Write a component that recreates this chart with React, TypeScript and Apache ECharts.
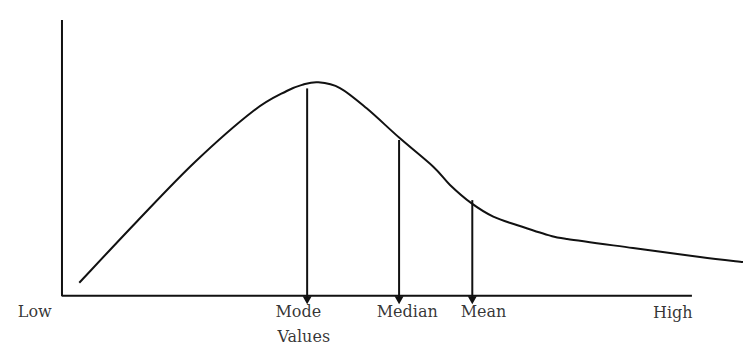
import React, { useEffect, useRef } from "react";
import * as echarts from "echarts";

// Skewed distribution curve (x: value position, y: frequency)
const curveX = [2.54, 10.97, 19.53, 28.09, 33.0, 35.43, 37.64, 40.82, 44.74, 49.63, 54.52, 56.98, 60.16, 63.33, 66.77, 71.41, 74.16, 83.85, 93.69, 100];
const curveY = [4.75, 26.87, 48.51, 67.0, 74.26, 76.61, 77.41, 75.34, 67.98, 57.11, 46.81, 40.2, 33.5, 28.7, 25.67, 22.0, 20.6, 17.33, 14.07, 12.25];

// Measures of central tendency: arrows from the curve down to the axis
const markerNames = ["Mode", "Median", "Mean"];
const markerX = [36.0, 49.5, 60.25];
const markerTop = [75.2, 56.5, 34.7];

// Axis extents
const axisXEnd = 92.5;
const axisYTop = 100;

// Labels below the axis
const labelNames = ["Low", "Mode", "Median", "Mean", "High", "Values"];
const labelX = [-4.0, 34.7, 50.7, 61.9, 89.7, 35.5];
const labelY = [-5.8, -5.8, -5.8, -5.8, -6.2, -14.9];

const INK = "#111";

function catmullRomPath(pts: number[][]): string {
  if (pts.length < 2) return "";
  let d = `M${pts[0][0]},${pts[0][1]}`;
  for (let i = 0; i < pts.length - 1; i++) {
    const p0 = pts[i - 1] || pts[i];
    const p1 = pts[i];
    const p2 = pts[i + 1];
    const p3 = pts[i + 2] || p2;
    const c1x = p1[0] + (p2[0] - p0[0]) / 6;
    const c1y = p1[1] + (p2[1] - p0[1]) / 6;
    const c2x = p2[0] - (p3[0] - p1[0]) / 6;
    const c2y = p2[1] - (p3[1] - p1[1]) / 6;
    d += ` C${c1x},${c1y} ${c2x},${c2y} ${p2[0]},${p2[1]}`;
  }
  return d;
}

export default function App() {
  const ref = useRef<HTMLDivElement>(null);
  useEffect(() => {
    if (!ref.current) return;
    const chart = echarts.init(ref.current, null, { renderer: "svg" });
    const series: any[] = [];
    // axes
    series.push({
      type: "line",
      data: [[0, axisYTop], [0, 0], [axisXEnd, 0]],
      symbol: "none",
      lineStyle: { color: INK, width: 2 },
      silent: true,
    });
    // curve (smooth path through the data points, placed by the axes' scales)
    series.push({
      type: "custom",
      silent: true,
      clip: false,
      data: curveX.map((x, i) => [x, curveY[i]]),
      encode: { x: 0, y: 1 },
      renderItem: (params: any, api: any) => {
        if (params.dataIndex !== 0) return null;
        const pts = curveX.map((x, i) => api.coord([x, curveY[i]]));
        return {
          type: "path",
          shape: { pathData: catmullRomPath(pts) },
          style: { stroke: INK, lineWidth: 2, fill: "none" },
        };
      },
    });
    // arrows
    markerNames.forEach((name, i) => {
      series.push({
        type: "line",
        name,
        data: [
          { value: [markerX[i], markerTop[i]], symbol: "none" },
          { value: [markerX[i], -1.6], symbol: "triangle", symbolSize: [9, 8], symbolRotate: 180 },
        ],
        lineStyle: { color: INK, width: 2 },
        itemStyle: { color: INK },
        showSymbol: true,
        silent: true,
      });
    });
    // labels
    series.push({
      type: "scatter",
      symbolSize: 1,
      itemStyle: { color: "transparent" },
      clip: false,
      silent: true,
      data: labelNames.map((n, i) => ({ name: n, value: [labelX[i], labelY[i]] })),
      label: {
        show: true,
        position: "inside",
        formatter: (p: any) => p.name,
        color: "#000",
        fontFamily: "DejaVu Serif",
        fontSize: 16,
      },
    });
    chart.setOption({
      animation: false,
      backgroundColor: "#fff",
      grid: { left: 0, right: 0, top: 20, bottom: 0 },
      xAxis: { type: "value", min: -9.1, max: 100, show: false },
      yAxis: { type: "value", min: -20, max: 100, show: false },
      series,
    });
    return () => chart.dispose();
  }, []);
  return (
    <div
      ref={ref}
      style={{ position: "absolute", left: 0, top: 0, width: 743, height: 351 }}
    />
  );
}
